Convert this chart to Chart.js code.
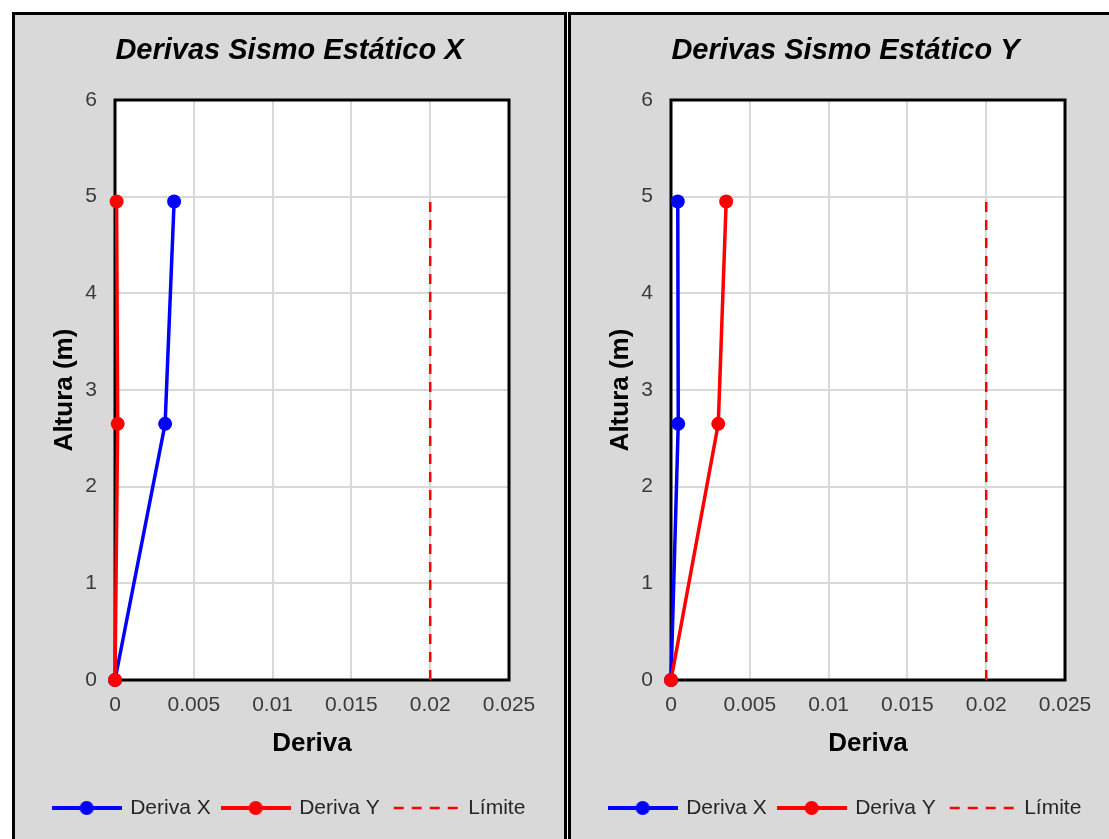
<!DOCTYPE html>
<html>
<head>
<meta charset="utf-8">
<script src="https://cdn.jsdelivr.net/npm/chart.js@4/dist/chart.umd.min.js"></script>
<style>
  html, body { margin: 0; padding: 0; background: #fff; overflow: hidden; width: 1109px; height: 839px; }
  .panel { position: absolute; top: 12px; width: 549px; height: 830px; border: 3px solid #000; background: #d9d9d9; overflow: hidden; }
  .panel canvas { position: absolute; left: 0; top: 0; }
</style>
</head>
<body>
<div class="panel" style="left:12px"><canvas id="chart-x" width="549" height="824"></canvas></div>
<div class="panel" style="left:568px"><canvas id="chart-y" width="549" height="824"></canvas></div>
<script>
// alturas de piso (m)
const heights = [0, 2.65, 4.95];

// sismo estatico X
const sxDerivaX = [0, 0.00318, 0.00375];
const sxDerivaY = [0, 0.00017, 0.0001];

// sismo estatico Y
const syDerivaX = [0, 0.00046, 0.00043];
const syDerivaY = [0, 0.0030, 0.0035];

// limite de deriva
const limitX = [0.02, 0.02];
const limitH = [0, 4.95];

const xTickLabels = ['0', '0.005', '0.01', '0.015', '0.02', '0.025'];
const yTickLabels = ['0', '1', '2', '3', '4', '5', '6'];
const chartTitles = ['Derivas Sismo Estático X', 'Derivas Sismo Estático Y'];
const seriesNames = ['Deriva X', 'Deriva Y', 'Límite'];

const FONT = "'Liberation Sans', Arial, sans-serif";

function toPoints(xs, ys) {
  return xs.map((x, i) => ({ x: x, y: ys[i] }));
}

function legendIcon(color, dashed, dot) {
  const c = document.createElement('canvas');
  c.width = 70;
  c.height = 16;
  const ctx = c.getContext('2d');
  ctx.strokeStyle = color;
  ctx.lineWidth = dashed ? 2.5 : 4;
  if (dashed) ctx.setLineDash([10, 8]);
  ctx.beginPath();
  ctx.moveTo(dashed ? 4 : 0, 8);
  ctx.lineTo(70, 8);
  ctx.stroke();
  if (dot) {
    ctx.fillStyle = color;
    ctx.beginPath();
    ctx.arc(35, 8, 7, 0, Math.PI * 2);
    ctx.fill();
  }
  return c;
}

const icons = [
  legendIcon('#0000ff', false, true),
  legendIcon('#ff0000', false, true),
  legendIcon('#ff0000', true, false),
];

const plotFrame = {
  id: 'plotFrame',
  beforeDraw(chart) {
    const a = chart.chartArea;
    const ctx = chart.ctx;
    ctx.save();
    ctx.fillStyle = '#ffffff';
    ctx.fillRect(a.left, a.top, a.right - a.left, a.bottom - a.top);
    ctx.restore();
  },
  beforeDatasetsDraw(chart) {
    const a = chart.chartArea;
    const ctx = chart.ctx;
    ctx.save();
    ctx.strokeStyle = '#000000';
    ctx.lineWidth = 3;
    ctx.strokeRect(a.left, a.top, a.right - a.left, a.bottom - a.top);
    ctx.restore();
  },
};

function makeChart(id, title, derivaX, derivaY) {
  return new Chart(document.getElementById(id), {
    type: 'line',
    data: {
      datasets: [
        {
          label: seriesNames[0],
          data: toPoints(derivaX, heights),
          borderColor: '#0000ff',
          backgroundColor: '#0000ff',
          borderWidth: 3.5,
          pointRadius: 7,
          pointBorderWidth: 0,
          order: 2,
          clip: false,
        },
        {
          label: seriesNames[1],
          data: toPoints(derivaY, heights),
          borderColor: '#ff0000',
          backgroundColor: '#ff0000',
          borderWidth: 3.5,
          pointRadius: 7,
          pointBorderWidth: 0,
          order: 1,
          clip: false,
        },
        {
          label: seriesNames[2],
          data: toPoints(limitX, limitH),
          borderColor: '#ff0000',
          backgroundColor: '#ff0000',
          borderWidth: 2.5,
          borderDash: [10, 8],
          pointRadius: 0,
          order: 3,
        },
      ],
    },
    options: {
      responsive: false,
      animation: false,
      layout: { padding: { left: 0, right: 0, top: 0, bottom: 10.5 } },
      plugins: {
        title: {
          display: true,
          text: title,
          color: '#000',
          font: { family: FONT, size: 29, weight: 'bold', style: 'italic' },
          padding: { top: 19, bottom: 31.2 },
        },
        legend: {
          position: 'bottom',
          labels: {
            usePointStyle: true,
            pointStyleWidth: 66,
            padding: 12,
            color: '#262626',
            font: { family: FONT, size: 21 },
            generateLabels(chart) {
              return chart.data.datasets.map((ds, i) => ({
                text: ds.label,
                pointStyle: icons[i],
                fillStyle: ds.borderColor,
                strokeStyle: ds.borderColor,
                lineWidth: 0,
                hidden: false,
                datasetIndex: i,
                fontColor: '#262626',
              }));
            },
          },
        },
        tooltip: { enabled: false },
      },
      scales: {
        x: {
          type: 'linear',
          min: 0,
          max: 0.025,
          ticks: {
            stepSize: 0.005,
            padding: 13,
            color: '#3a3a3a',
            font: { family: FONT, size: 21 },
            callback: (v, i) => xTickLabels[i],
            maxRotation: 0,
          },
          grid: { color: '#d9d9d9', lineWidth: 2, drawTicks: false },
          border: { display: false },
          title: {
            display: true,
            text: 'Deriva',
            color: '#000',
            font: { family: FONT, size: 26, weight: 'bold' },
            padding: { top: 0, bottom: 26 },
          },
          afterFit(scale) { scale.height = 105.5; },
        },
        y: {
          type: 'linear',
          min: 0,
          max: 6,
          ticks: {
            stepSize: 1,
            padding: 18,
            color: '#3a3a3a',
            font: { family: FONT, size: 21 },
            callback: (v, i) => yTickLabels[i],
          },
          grid: { color: '#d9d9d9', lineWidth: 2, drawTicks: false },
          border: { display: false },
          title: {
            display: true,
            text: 'Altura (m)',
            color: '#000',
            font: { family: FONT, size: 26, weight: 'bold' },
            padding: { top: 34, bottom: 0 },
          },
          afterFit(scale) { scale.width = 100; },
        },
        yRight: {
          type: 'linear',
          position: 'right',
          display: true,
          ticks: { display: false },
          grid: { display: false, drawTicks: false },
          border: { display: false },
          afterFit(scale) { scale.width = 55; },
        },
      },
    },
    plugins: [plotFrame],
  });
}

makeChart('chart-x', chartTitles[0], sxDerivaX, sxDerivaY);
makeChart('chart-y', chartTitles[1], syDerivaX, syDerivaY);
</script>
</body>
</html>
